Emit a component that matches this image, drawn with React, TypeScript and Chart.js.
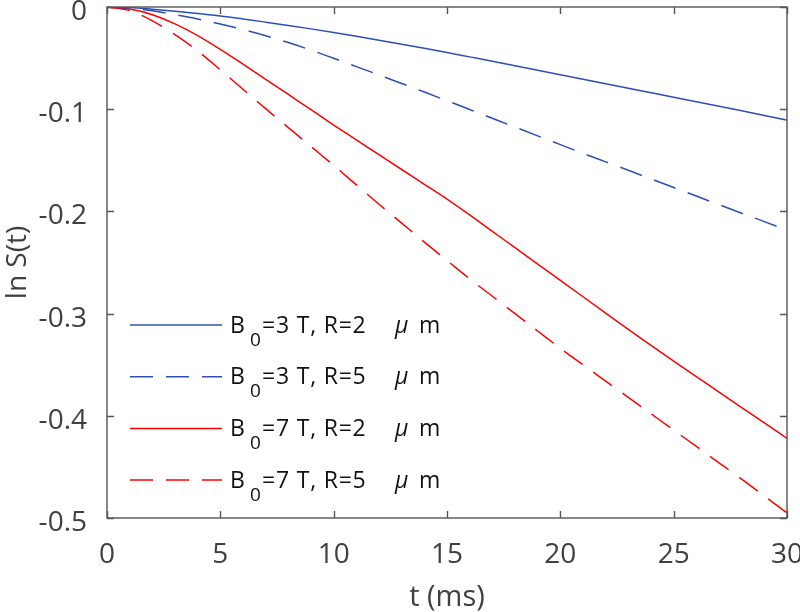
import React, { useEffect, useRef } from 'react';
import { Chart, registerables } from 'chart.js';

Chart.register(...registerables);

// ---- data ----
const times = [0, 1, 2, 3, 4, 5, 6, 7, 8, 9, 10, 11, 12, 13, 14, 15, 16, 17, 18, 19, 20, 21, 22, 23, 24, 25, 26, 27, 28, 29, 30];

const b3r2 = [0, -0.0006, -0.0022, -0.0042, -0.0064, -0.0088, -0.0117, -0.0148, -0.018, -0.0214, -0.025, -0.0287, -0.0325, -0.0364, -0.0404, -0.0445, -0.0488, -0.0531, -0.0575, -0.0619, -0.0663, -0.0707, -0.0751, -0.0795, -0.0839, -0.0883, -0.0927, -0.0971, -0.1016, -0.1061, -0.1106];

const b3r5 = [0, -0.0009, -0.0037, -0.0075, -0.0117, -0.0166, -0.022, -0.0281, -0.0348, -0.0422, -0.0502, -0.0583, -0.0665, -0.0748, -0.0832, -0.0917, -0.1003, -0.1089, -0.1175, -0.1261, -0.1347, -0.1432, -0.1515, -0.1598, -0.1682, -0.1766, -0.185, -0.1934, -0.2018, -0.21, -0.2185];

const b7r2 = [0, -0.002, -0.0075, -0.0165, -0.028, -0.0415, -0.056, -0.0707, -0.0856, -0.1005, -0.1155, -0.13, -0.1445, -0.159, -0.1735, -0.188, -0.2035, -0.2195, -0.2355, -0.2515, -0.2675, -0.2835, -0.2995, -0.3155, -0.331, -0.3465, -0.3617, -0.3768, -0.3919, -0.407, -0.422];

const b7r5 = [0, -0.0035, -0.0135, -0.027, -0.043, -0.0615, -0.0805, -0.0995, -0.118, -0.1365, -0.155, -0.174, -0.193, -0.2115, -0.23, -0.248, -0.266, -0.283, -0.3, -0.317, -0.334, -0.35, -0.366, -0.382, -0.398, -0.414, -0.43, -0.446, -0.462, -0.4785, -0.495];

const fieldStrengths = [3, 3, 7, 7];
const radii = [2, 5, 2, 5];

const xTickValues = [0, 5, 10, 15, 20, 25, 30];
const yTickValues = [0, -0.1, -0.2, -0.3, -0.4, -0.5];

const xTitle = 't (ms)';
const yTitle = 'ln S(t)';

// ---- styles ----
const BLUE = '#2c4fb3';
const RED = '#ff0000';
const AXIS = '#555555';
const TEXT = '#404040';
const FONT = "'Open Sans', 'Noto Sans', sans-serif";
const DASH = [23, 13];

const frameAndLegend = {
  id: 'frameAndLegend',
  afterDatasetsDraw(chart: any) {
    const { ctx, chartArea } = chart;
    const { left, right, top, bottom } = chartArea;
    const xs = chart.scales.x;
    const ys = chart.scales.y;
    const tl = 7;
    ctx.save();
    ctx.strokeStyle = AXIS;
    ctx.lineWidth = 1.4;
    ctx.setLineDash([]);
    ctx.strokeRect(left, top, right - left, bottom - top);
    ctx.beginPath();
    xTickValues.forEach((v) => {
      const px = Math.round(xs.getPixelForValue(v)) + 0.5;
      ctx.moveTo(px, bottom);
      ctx.lineTo(px, bottom - tl);
      ctx.moveTo(px, top);
      ctx.lineTo(px, top + tl);
    });
    yTickValues.forEach((v) => {
      const py = Math.round(ys.getPixelForValue(v)) + 0.5;
      ctx.moveTo(left, py);
      ctx.lineTo(left + tl, py);
      ctx.moveTo(right, py);
      ctx.lineTo(right - tl, py);
    });
    ctx.stroke();
    ctx.restore();
  },
  afterDraw(chart: any) {
    const { ctx, chartArea } = chart;
    const x1 = chartArea.left + 23;
    const x2 = chartArea.left + 115;
    const tx = chartArea.left + 123;
    const rowY0 = 325;
    const rowStep = 51.7;
    ctx.save();
    chart.data.datasets.forEach((ds: any, i: number) => {
      const y = rowY0 + i * rowStep;
      ctx.strokeStyle = ds.borderColor;
      ctx.lineWidth = ds.borderWidth;
      ctx.setLineDash(ds.borderDash || []);
      ctx.beginPath();
      ctx.moveTo(x1, y);
      ctx.lineTo(x2, y);
      ctx.stroke();
      ctx.setLineDash([]);
      ctx.fillStyle = '#111111';
      ctx.textBaseline = 'alphabetic';
      ctx.textAlign = 'left';
      const base = y + 7.5;
      let x = tx;
      (ctx as any).letterSpacing = '0px';
      ctx.font = `23px ${FONT}`;
      ctx.fillText('B', x, base);
      x += 20;
      ctx.font = `19px ${FONT}`;
      ctx.fillText('0', x, base + 13);
      x += 12;
      ctx.font = `23px ${FONT}`;
      (ctx as any).letterSpacing = '0.8px';
      ctx.fillText(`=${fieldStrengths[i]} T, R=${radii[i]}`, x, base);
      (ctx as any).letterSpacing = '0px';
      ctx.font = `italic 23px ${FONT}`;
      ctx.fillText('\u03bc', tx + 165, base);
      ctx.font = `23px ${FONT}`;
      ctx.fillText('m', tx + 189, base);
    });
    ctx.restore();
  },
};

function makeSeries(vals: number[]) {
  return times.map((t, i) => ({ x: t, y: vals[i] }));
}

export default function App() {
  const ref = useRef<HTMLCanvasElement | null>(null);
  useEffect(() => {
    if (!ref.current) return;
    const chart = new Chart(ref.current, {
      type: 'line',
      data: {
        datasets: [
          { label: 'B0=3 T, R=2 um', data: makeSeries(b3r2), borderColor: BLUE, borderWidth: 1.5, borderDash: [], pointRadius: 0, fill: false, cubicInterpolationMode: 'monotone' },
          { label: 'B0=3 T, R=5 um', data: makeSeries(b3r5), borderColor: BLUE, borderWidth: 1.5, borderDash: DASH, pointRadius: 0, fill: false, cubicInterpolationMode: 'monotone' },
          { label: 'B0=7 T, R=2 um', data: makeSeries(b7r2), borderColor: RED, borderWidth: 1.5, borderDash: [], pointRadius: 0, fill: false, cubicInterpolationMode: 'monotone' },
          { label: 'B0=7 T, R=5 um', data: makeSeries(b7r5), borderColor: RED, borderWidth: 1.5, borderDash: DASH, pointRadius: 0, fill: false, cubicInterpolationMode: 'monotone' },
        ],
      } as any,
      options: {
        responsive: false,
        animation: false,
        events: [],
        layout: { padding: { left: 0, right: 13, top: 7, bottom: 0 } },
        plugins: { legend: { display: false }, tooltip: { enabled: false } },
        scales: {
          x: {
            type: 'linear',
            min: 0,
            max: 30,
            afterBuildTicks: (s: any) => { s.ticks = xTickValues.map((v) => ({ value: v })); },
            afterFit: (s: any) => { s.height = 94; s.paddingLeft = 0; s.paddingRight = 0; },
            grid: { display: false, drawTicks: false },
            border: { display: false },
            ticks: {
              font: { family: FONT, size: 28 },
              color: TEXT,
              padding: 20,
              maxRotation: 0,
              autoSkip: false,
              callback: (v: any) => String(v),
            },
            title: { display: true, text: xTitle, color: TEXT, font: { family: FONT, size: 29, lineHeight: 1 }, padding: { top: 0, bottom: 0 } },
          },
          y: {
            type: 'linear',
            min: -0.5,
            max: 0,
            afterBuildTicks: (s: any) => { s.ticks = yTickValues.map((v) => ({ value: v })); },
            afterFit: (s: any) => { s.width = 107; s.paddingTop = 0; s.paddingBottom = 0; },
            grid: { display: false, drawTicks: false },
            border: { display: false },
            ticks: {
              font: { family: FONT, size: 28 },
              color: TEXT,
              padding: 20,
              labelOffset: 5,
              autoSkip: false,
              callback: (v: any) => (Math.abs(v) < 1e-9 ? '0' : Number(v).toFixed(1)),
            },
            title: { display: true, text: yTitle, color: TEXT, font: { family: FONT, size: 28, lineHeight: 1 }, padding: { top: 4, bottom: 0 } },
          },
        },
      } as any,
      plugins: [frameAndLegend],
    });
    return () => chart.destroy();
  }, []);
  return (
    <div style={{ position: 'absolute', left: 0, top: 0, width: 800, height: 612, background: '#ffffff' }}>
      <canvas ref={ref} width={800} height={612} />
    </div>
  );
}
